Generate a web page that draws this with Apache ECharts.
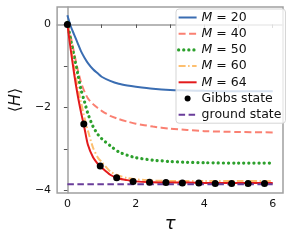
<!DOCTYPE html>
<html>
<head>
<meta charset="utf-8">
<script src="https://cdn.jsdelivr.net/npm/echarts@6/dist/echarts.min.js"></script>
<style>html,body{margin:0;padding:0;background:#fff}#c{width:291px;height:242px}</style>
</head>
<body>
<div id="c"></div>
<script>
// time grid for the variational curves
const tau = [0, 0.1, 0.2, 0.3, 0.4, 0.5, 0.6, 0.75, 0.9, 1.0, 1.25, 1.5, 1.75, 2, 2.5, 3, 3.5, 4, 5, 6];
const m20 = [0.22, -0.05, -0.25, -0.45, -0.65, -0.80, -0.93, -1.08, -1.19, -1.26, -1.36, -1.43, -1.47, -1.50, -1.55, -1.58, -1.59, -1.60, -1.61, -1.61];
const m40 = [0, -0.30, -0.70, -1.08, -1.40, -1.62, -1.78, -1.92, -2.02, -2.08, -2.20, -2.28, -2.34, -2.39, -2.46, -2.51, -2.54, -2.57, -2.59, -2.60];
const m50 = [0.05, -0.38, -0.78, -1.18, -1.58, -1.86, -2.15, -2.46, -2.66, -2.75, -2.92, -3.07, -3.15, -3.21, -3.27, -3.30, -3.32, -3.33, -3.34, -3.34];
const m60 = [0, -0.55, -1.05, -1.50, -1.88, -2.25, -2.56, -2.97, -3.22, -3.31, -3.54, -3.64, -3.70, -3.73, -3.76, -3.77, -3.77, -3.77, -3.77, -3.77];
const m64 = [0, -0.62, -1.20, -1.70, -2.12, -2.50, -2.90, -3.20, -3.37, -3.45, -3.62, -3.71, -3.75, -3.78, -3.80, -3.81, -3.81, -3.82, -3.82, -3.82];
const tauGibbs = [0, 0.48, 0.96, 1.44, 1.92, 2.40, 2.88, 3.36, 3.84, 4.32, 4.80, 5.28, 5.76];
const gibbs = [0, -2.40, -3.41, -3.69, -3.78, -3.80, -3.81, -3.82, -3.82, -3.83, -3.83, -3.83, -3.83];
const tauGround = [0, 6];
const ground = [-3.85, -3.85];
const xTicks = [0, 1, 2, 3, 4, 5, 6];
const xLabels = [0, 2, 4, 6];
const yTicks = [-4, -3, -2, -1, 0];
const yLabels = [-4, -2, 0];

const pairs = (xs, ys) => xs.map((x, i) => [x, ys[i]]);
const fmt = v => v < 0 ? '\u2212' + Math.abs(v) : String(v);
const FF = 'DejaVu Sans';

const styles = {
  'M = 20': { color: '#3a6db2', type: 'solid', width: 2 },
  'M = 40': { color: '#fa8072', type: [7, 3.5], width: 2 },
  'M = 50': { color: '#2ca02c', type: [0.1, 5], width: 3.2, cap: 'round' },
  'M = 60': { color: '#fdbf6f', type: [7, 2.5, 1.5, 2.5], width: 2 },
  'M = 64': { color: '#e31a1c', type: 'solid', width: 2 },
  'ground state': { color: '#6a3d9a', type: [6.5, 3.5], width: 2 }
};

function lineSeries(name, xs, ys, smooth, z) {
  const s = styles[name];
  return {
    name, type: 'line', data: pairs(xs, ys), symbol: 'none', smooth,
    lineStyle: { color: s.color, width: s.width, type: s.type, cap: s.cap || 'butt' },
    itemStyle: { color: s.color }, z
  };
}

const legendData = ['M = 20', 'M = 40', 'M = 50', 'M = 60', 'M = 64', 'Gibbs state', 'ground state'].map(n => {
  if (n === 'Gibbs state') return { name: n, itemStyle: { color: '#000', opacity: 1 } };
  const s = styles[n];
  return { name: n, itemStyle: { opacity: 0 }, lineStyle: { color: s.color, width: s.width, type: s.type, cap: s.cap || 'butt' } };
});

const chart = echarts.init(document.getElementById('c'), null, { renderer: 'canvas' });
chart.setOption({
  animation: false,
  grid: { left: 55, right: 8, top: 7, bottom: 49, show: true, borderColor: '#a0a0a0', borderWidth: 1.5, backgroundColor: 'transparent' },
  xAxis: {
    type: 'value', min: -0.3, max: 6.3,
    axisLine: { show: true, lineStyle: { color: '#a0a0a0', width: 1.5 } },
    axisTick: { show: true, customValues: xTicks, length: 3.5, lineStyle: { color: '#555', width: 1 } },
    axisLabel: { customValues: xLabels, formatter: fmt, margin: 6, fontFamily: FF, fontSize: 11, color: '#111' },
    splitLine: { show: false },
    name: '\u03C4', nameLocation: 'middle', nameGap: 19,
    nameTextStyle: { fontFamily: FF, fontStyle: 'italic', fontSize: 18, color: '#111' }
  },
  yAxis: {
    type: 'value', min: -4.06, max: 0.42,
    axisLine: { show: true, lineStyle: { color: '#a0a0a0', width: 1.5 } },
    axisTick: { show: true, customValues: yTicks, length: 3.5, lineStyle: { color: '#555', width: 1 } },
    axisLabel: { customValues: yLabels, formatter: fmt, margin: 6, fontFamily: FF, fontSize: 11, color: '#111' },
    splitLine: { show: false },
    name: '\u27E8{i|H}\u27E9', nameLocation: 'middle', nameRotate: 90, nameGap: 31,
    nameTextStyle: { fontFamily: FF, fontSize: 16, color: '#111', rich: { i: { fontFamily: FF, fontStyle: 'italic', fontSize: 16, color: '#111' } } }
  },
  legend: {
    orient: 'vertical', left: 176, top: 9,
    itemWidth: 18, itemHeight: 6, itemGap: 3.2,
    padding: [2, 4, 2, 1],
    backgroundColor: 'rgba(255,255,255,0.8)', borderColor: '#d5d5d5', borderWidth: 1, borderRadius: 3,
    textStyle: { fontFamily: FF, fontSize: 12.5, color: '#111', rich: { i: { fontFamily: FF, fontStyle: 'italic', fontSize: 12.5, color: '#111' } } },
    formatter: name => name.startsWith('M') ? '{i|M} = ' + name.split('= ')[1] : name,
    data: legendData
  },
  series: [
    lineSeries('M = 20', tau, m20, 0.25, 2),
    lineSeries('M = 40', tau, m40, 0.25, 2),
    lineSeries('M = 50', tau, m50, 0.25, 2),
    lineSeries('M = 60', tau, m60, 0.25, 2),
    lineSeries('M = 64', tau, m64, 0.25, 2),
    { name: 'Gibbs state', type: 'scatter', data: pairs(tauGibbs, gibbs), symbol: 'circle', symbolSize: 7, itemStyle: { color: '#000', opacity: 1 }, z: 4 },
    lineSeries('ground state', tauGround, ground, false, 3)
  ]
});
</script>
</body>
</html>
